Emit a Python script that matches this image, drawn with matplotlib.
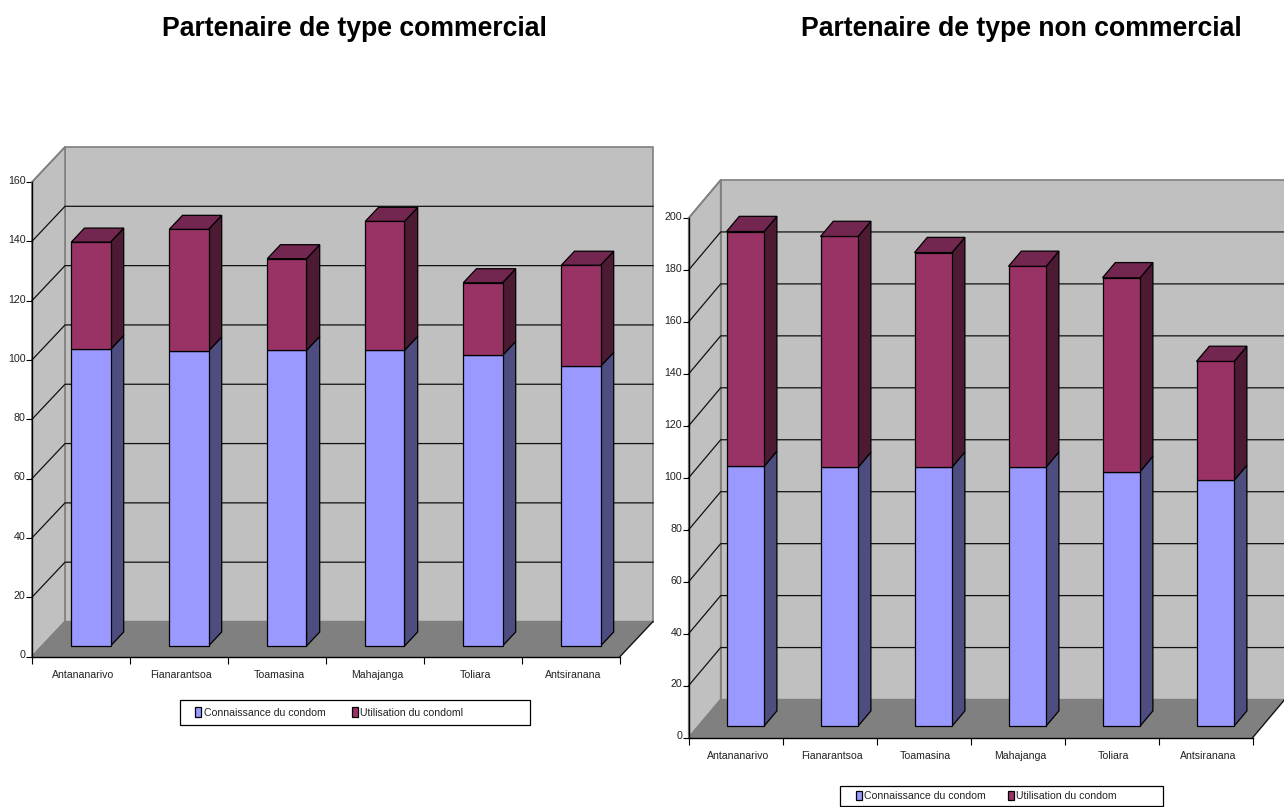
import matplotlib
matplotlib.use("Agg")
from matplotlib import pyplot as plt
from matplotlib.patches import Polygon, Rectangle
from matplotlib.transforms import ScaledTranslation

plt.rcParams["font.family"] = ["Liberation Sans", "DejaVu Sans"]

W, H = 1284, 807

villes = ["Antananarivo", "Fianarantsoa", "Toamasina", "Mahajanga", "Toliara", "Antsiranana"]

# partenaire commercial
conn_com = [100, 99.5, 99.7, 99.7, 98, 94.3]
util_com = [36.2, 41, 30.9, 43.5, 24.5, 34.1]
yticks_com = [0, 20, 40, 60, 80, 100, 120, 140, 160]

# partenaire non commercial
conn_non = [100, 99.6, 99.7, 99.7, 98, 94.6]
util_non = [90.4, 88.9, 82.6, 77.3, 74.6, 45.8]
yticks_non = [0, 20, 40, 60, 80, 100, 120, 140, 160, 180, 200]

BLEU = ("#9999FF", "#4D4D80")
BORDEAUX = ("#993366", "#4D1A33")
DESSUS = "#732650"
GRIS = "#C0C0C0"
SOL = "#808080"


def poly(ax, pts, color, ec="black", lw=0.9, z=1):
    ax.add_patch(Polygon(pts, closed=True, facecolor=color, edgecolor=ec,
                         linewidth=lw, zorder=z, clip_on=False, joinstyle="miter"))


def chart(box, conn, util, yticks, depth_px):
    x0, ytop, x1, ybot = box
    ax = fig.add_axes([x0 / W, 1 - ybot / H, (x1 - x0) / W, (ybot - ytop) / H])
    ymax = yticks[-1]
    n = len(conn)
    ax.set_xlim(0, n)
    ax.set_ylim(0, ymax)
    ax.patch.set_visible(False)

    # profondeur de la vue oblique, en unites de donnees
    dx = depth_px[0] / ((x1 - x0) / n)
    dy = depth_px[1] / ((ybot - ytop) / ymax)

    # parois et sol
    poly(ax, [(dx, dy), (n + dx, dy), (n + dx, ymax + dy), (dx, ymax + dy)], GRIS, ec=SOL, lw=1.2)
    poly(ax, [(0, 0), (dx, dy), (dx, ymax + dy), (0, ymax)], GRIS, ec=SOL, lw=1.2)
    poly(ax, [(0, 0), (n, 0), (n + dx, dy), (dx, dy)], SOL, ec=SOL, lw=1)
    ax.plot([n, n + dx], [0, dy], color="#111111", lw=0.9, zorder=2, clip_on=False)
    for v in yticks[1:-1]:
        ax.plot([0, dx, n + dx], [v, v + dy, v + dy], color="#111111", lw=0.9, zorder=2,
                clip_on=False, solid_joinstyle="miter")
    for v in [yticks[-1]]:
        ax.plot([0, dx], [v, v + dy], color=SOL, lw=1.2, zorder=2, clip_on=False)

    # barres empilees
    d0x, d0y = dx * 0.3, dy * 0.3
    bx, by = dx * 0.4, dy * 0.4
    larg = 0.4
    for i in range(n):
        z = 3 + i
        xa = i + 0.3 + d0x
        xb = xa + larg
        base = d0y
        for val, (front, side) in ((conn[i], BLEU), (util[i], BORDEAUX)):
            top = base + val
            poly(ax, [(xb, base), (xb + bx, base + by), (xb + bx, top + by), (xb, top)], side, z=z)
            poly(ax, [(xa, base), (xb, base), (xb, top), (xa, top)], front, z=z)
            base = top
        poly(ax, [(xa, base), (xb, base), (xb + bx, base + by), (xa + bx, base + by)], DESSUS, z=z)

    # axes
    for s in ["top", "right"]:
        ax.spines[s].set_visible(False)
    for s in ["left", "bottom"]:
        ax.spines[s].set_linewidth(1.0)
        ax.spines[s].set_zorder(20)
    ax.set_yticks(yticks)
    ax.set_xticks(range(n + 1))
    ax.set_xticklabels([])
    ax.set_xticks([i + 0.5 for i in range(n)], labels=villes, minor=True)
    ax.tick_params(axis="y", length=4.2, width=0.8, labelsize=7.7, pad=0.5, labelcolor="#222222")
    ax.tick_params(axis="x", which="major", length=5.2, width=0.8)
    ax.tick_params(axis="x", which="minor", length=0, labelsize=7.6, pad=10, labelcolor="#222222")
    decal = ScaledTranslation(0, 1.5 / 72, fig.dpi_scale_trans)
    for lab in ax.get_yticklabels():
        lab.set_transform(lab.get_transform() + decal)
    decal_x = ScaledTranslation(1.5 / 72, 0, fig.dpi_scale_trans)
    for lab in ax.get_xticklabels(minor=True):
        lab.set_transform(lab.get_transform() + decal_x)
    return ax


def legende(box, entries):
    x0, y0, x1, y1 = box
    tr = fig.transFigure
    fig.add_artist(Rectangle((x0 / W, 1 - y1 / H), (x1 - x0) / W, (y1 - y0) / H, transform=tr,
                             facecolor="white", edgecolor="black", linewidth=0.9))
    ym = (y0 + y1) / 2
    for xm, color, txt in entries:
        fig.add_artist(Rectangle((xm / W, 1 - (ym + 4.5) / H), 6.5 / W, 9.5 / H, transform=tr,
                                 facecolor=color, edgecolor="black", linewidth=0.9))
        fig.text((xm + 8.5) / W, 1 - (ym + 0.5) / H, txt, fontsize=7.6, va="center", color="#222222")


fig = plt.figure(figsize=(W / 100, H / 100), dpi=100)

fig.text(354.5 / W, 1 - 35.5 / H, "Partenaire de type commercial", fontsize=19.2, fontweight="bold",
         ha="center", va="baseline")
fig.text(1021 / W, 1 - 35.5 / H, "Partenaire de type non commercial", fontsize=19.2, fontweight="bold",
         ha="center", va="baseline")

chart((32, 182, 620, 656.5), conn_com, util_com, yticks_com, (33, 35))
chart((688.7, 218, 1252.7, 737.5), conn_non, util_non, yticks_non, (32, 38))

legende((179.5, 699.5, 530, 724.5), [(195, BLEU[0], "Connaissance du condom"),
                                     (351.5, BORDEAUX[0], "Utilisation du condoml")])
legende((839.5, 785.5, 1163, 805.5), [(855.5, BLEU[0], "Connaissance du condom"),
                                      (1007.5, BORDEAUX[0], "Utilisation du condom")])

fig.savefig("out.png", dpi=100)
